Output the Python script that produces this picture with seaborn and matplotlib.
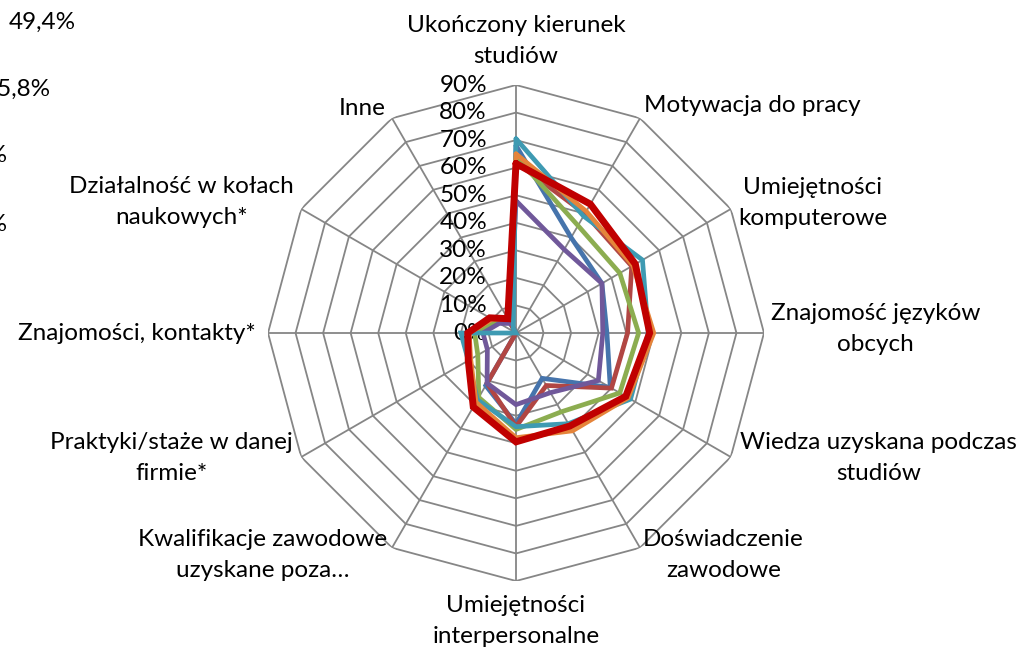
import numpy as np
import pandas as pd
import matplotlib
matplotlib.use("Agg")
import matplotlib.pyplot as plt
import seaborn as sns

# ---------------- data ----------------
categories = [
    "Ukończony kierunek\nstudiów",
    "Motywacja do pracy",
    "Umiejętności\nkomputerowe",
    "Znajomość języków\nobcych",
    "Wiedza uzyskana podczas\nstudiów",
    "Doświadczenie\nzawodowe",
    "Umiejętności\ninterpersonalne",
    "Kwalifikacje zawodowe\nuzyskane poza…",
    "Praktyki/staże w danej\nfirmie*",
    "Znajomości, kontakty*",
    "Działalność w kołach\nnaukowych*",
    "Inne",
]
series_names = ["S1", "S2", "S3", "S4", "S5", "S6", "S7"]
s1_blue   = [68, 40, 36, 33, 39.5, 19, 33, 22, 0, 0, 0, 4]
s2_brown  = [62, 50, 48.5, 40.5, 40, 22, 34, 21, 0, 0, 0, 5]
s3_green  = [64, 45, 43.5, 44.5, 43.5, 33, 35, 27, 16, 15, 8, 5]
s4_purple = [48, 35, 36, 31.5, 34.5, 25, 26, 21, 12, 12, 7, 4]
s5_teal   = [70.5, 49, 53, 48, 48, 38, 34, 28, 20, 20, 0, 2]
s6_orange = [65, 51, 49, 50, 47, 41, 38, 29, 19, 17, 10, 6]
s7_red    = [61.5, 54, 50, 48.5, 46, 39, 39.5, 31, 20, 17.5, 11, 6]
all_series = [s1_blue, s2_brown, s3_green, s4_purple, s5_teal, s6_orange, s7_red]
tick_values = [0, 10, 20, 30, 40, 50, 60, 70, 80, 90]
tick_labels = ["0%", "10%", "20%", "30%", "40%", "50%", "60%", "70%", "80%", "90%"]
legend_fragments = ["49,4%", "45,8%", "38,2%", "36,1%"]

# ---------------- style ----------------
colors = ["#4674AC", "#B14643", "#8CAD50", "#70589A", "#3E9AB2", "#E5843A", "#C00000"]
widths = [3.4, 3.4, 3.4, 3.4, 3.4, 3.4, 5.0]
sns.set_theme(style="white")
plt.rcParams["font.family"] = ["Lato", "DejaVu Sans"]
FS = 17.5

W, H = 1019, 650
fig = plt.figure(figsize=(W / 100, H / 100), dpi=100)
cx, cy, R = 516, 333, 248
ax = fig.add_axes([(cx - R) / W, (H - cy - R) / H, 2 * R / W, 2 * R / H], projection="polar")
ax.set_theta_zero_location("N")
ax.set_theta_direction(-1)
ax.set_ylim(0, 90)
ax.grid(False)
ax.spines["polar"].set_visible(False)
ax.set_facecolor("none")

n = len(categories)
angles = np.arange(n) * 2 * np.pi / n
ang_closed = np.append(angles, angles[0])

# polygon gridlines and spokes
grid_col = "#868686"
for lvl in tick_values[1:]:
    ax.plot(ang_closed, [lvl] * (n + 1), color=grid_col, lw=1.3, zorder=1)
for a in angles:
    ax.plot([a, a], [0, 90], color=grid_col, lw=1.3, zorder=1)

# series
rows = []
for name, vals in zip(series_names, all_series):
    for i in range(n + 1):
        rows.append({"series": name, "theta": ang_closed[i], "value": vals[i % n]})
df = pd.DataFrame(rows)
for k, name in enumerate(series_names):
    sub = df[df["series"] == name]
    sns.lineplot(data=sub, x="theta", y="value", sort=False, ax=ax, color=colors[k],
                 lw=widths[k], zorder=3 + k, legend=False, estimator=None)
for line in ax.lines:
    line.set_solid_joinstyle("miter")
ax.set_xlabel("")
ax.set_ylabel("")
ax.set_xticks([])
ax.set_yticks([])
ax.set_ylim(0, 90)

# radial tick labels
for v, lab in zip(tick_values, tick_labels):
    ax.annotate(lab, xy=(0, v), xytext=(-29, 0), textcoords="offset pixels",
                ha="right", va="center", fontsize=FS, color="black", zorder=2)

# category labels: (dx, dy) in pixels (dy positive = up)
label_specs = [
    (0, 44, "center", "center"),
    (4, 13, "left", "center"),
    (7, 6, "left", "center"),
    (7, 4, "left", "center"),
    (9, -1, "left", "center"),
    (3, -7, "left", "center"),
    (0, -40, "center", "center"),
    (-5, -7, "right", "center"),
    (-8, -1, "right", "center"),
    (-12, 0, "right", "center"),
    (-7, 7, "right", "center"),
    (-6, 10, "right", "center"),
]
for a, lab, (dx, dy, ha, va) in zip(angles, categories, label_specs):
    ax.annotate(lab, xy=(a, 90), xytext=(dx, dy), textcoords="offset pixels",
                ha=ha, va=va, multialignment="center", fontsize=FS, color="black",
                linespacing=1.6)

# clipped legend fragments on the left edge
for txt, xr, yc in zip(legend_fragments, [76, 51, 8, 8], [22, 89, 155, 224]):
    fig.text(xr / W, 1 - yc / H, txt, ha="right", va="center", fontsize=FS, color="black")

fig.savefig("out.png", dpi=100)
